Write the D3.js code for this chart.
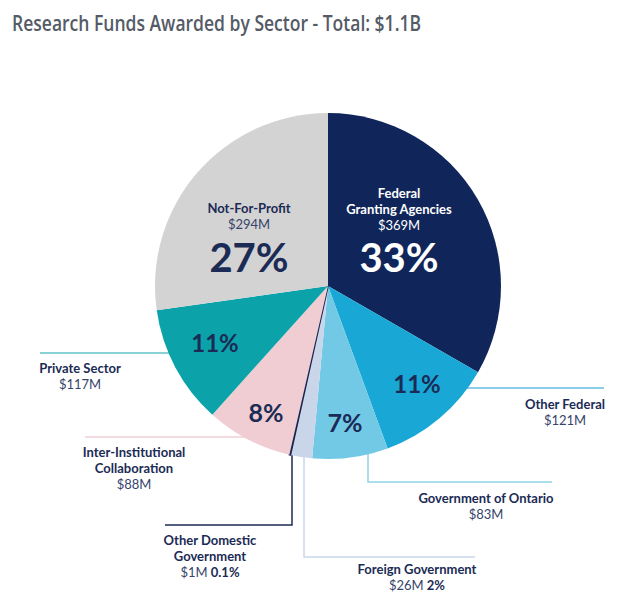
<!DOCTYPE html>
<html>
<head>
<meta charset="utf-8">
<script src="https://cdn.jsdelivr.net/npm/d3@7"></script>
<style>
  html, body { margin: 0; padding: 0; background: #ffffff; }
  svg { display: block; }
</style>
</head>
<body>
<svg id="chart" width="640" height="599"></svg>
<script>
// ---- data ----
const sectors = ["Federal Granting Agencies", "Other Federal", "Government of Ontario", "Foreign Government",
                 "Other Domestic Government", "Inter-Institutional Collaboration", "Private Sector", "Not-For-Profit"];
const nameLines = [["Federal", "Granting Agencies"], ["Other Federal"], ["Government of Ontario"], ["Foreign Government"],
                   ["Other Domestic", "Government"], ["Inter-Institutional", "Collaboration"], ["Private Sector"], ["Not-For-Profit"]];
const amounts = ["$369M", "$121M", "$83M", "$26M", "$1M", "$88M", "$117M", "$294M"];
const percents = [33, 11, 7, 2, 0.1, 8, 11, 27];
const title = "Research Funds Awarded by Sector - Total: $1.1B";

// ---- styles / layout ----
const colors = ["#10265a", "#19a8d6", "#72c9e6", "#c9d6ea", "#16244f", "#efcdd2", "#0ba3a9", "#d3d3d3"];
const lineColors = ["none", "#62bde0", "#8fd3ea", "#c9d6ea", "#1c2a55", "#f0cfd4", "#62c2c6", "none"];
const navy = "#1b2b55";
const cx = 328, cy = 286, R = 173;

// label layout: pct = inside percentage position; lbl = label block; leader = leader line spec
const layout = [
  { pct: [399, 272, 40, "#ffffff"], lbl: [399, 198, "#ffffff", "inside"] },
  { pct: [417, 393, 24, navy], lbl: [565, 409, navy], leader: { type: "h", y: 388, x: 604 } },
  { pct: [345, 432, 25, navy], lbl: [486, 503, navy], leader: { type: "vh", x: 368, y: 482, x2: 552 } },
  { pct: null, lbl: [417, 574, navy, "pctInline"], leader: { type: "vh", x: 304, y: 557, x2: 475 } },
  { pct: null, lbl: [210, 545, navy, "pctInline"], leader: { type: "vh", x: 292, y: 525, x2: 165 } },
  { pct: [266, 422, 25, navy], lbl: [134, 457, navy], leader: { type: "h", y: 437, x: 85 } },
  { pct: [215, 352, 24, navy], lbl: [80, 373, navy], leader: { type: "h", y: 353, x: 40 } },
  { pct: [249, 272, 40, navy], lbl: [249, 213, navy, "inside"] }
];

const svg = d3.select("#chart");

// title
const titleText = svg.append("text")
  .attr("x", 12).attr("y", 31)
  .attr("font-family", "'Open Sans', sans-serif")
  .attr("font-weight", 600)
  .attr("font-size", 21)
  .attr("fill", "#545b66")
  .text(title);
const tw = titleText.node().getComputedTextLength();
if (Math.abs(tw - 409) > 4) {
  titleText.attr("textLength", 409).attr("lengthAdjust", "spacingAndGlyphs");
}

const pie = d3.pie().sort(null).value(d => d)(percents);
const arc = d3.arc().innerRadius(0).outerRadius(R);

const g = svg.append("g");

// leader lines (behind pie)
const leaders = g.append("g").attr("fill", "none").attr("stroke-width", 1.5);
layout.forEach((L, i) => {
  if (!L.leader) return;
  const ld = L.leader;
  let pts;
  if (ld.type === "h") {
    const dx = Math.sqrt(R * R - (ld.y - cy) * (ld.y - cy));
    const xEdge = ld.x < cx ? cx - dx + 2 : cx + dx - 2;
    pts = [[xEdge, ld.y], [ld.x, ld.y]];
  } else {
    const dy = Math.sqrt(R * R - (ld.x - cx) * (ld.x - cx));
    pts = [[ld.x, cy + dy - 2], [ld.x, ld.y], [ld.x2, ld.y]];
  }
  leaders.append("path")
    .attr("d", d3.line()(pts))
    .attr("stroke", lineColors[i]);
});

// slices
g.append("g").attr("transform", `translate(${cx},${cy})`)
  .selectAll("path").data(pie).join("path")
  .attr("d", arc)
  .attr("fill", (d, i) => colors[i])
  .attr("stroke", (d, i) => i === 4 ? colors[i] : "none")
  .attr("stroke-width", (d, i) => i === 4 ? 1.6 : 0);

// percentage labels inside
const fmtPct = v => `${v}%`;
layout.forEach((L, i) => {
  if (!L.pct) return;
  svg.append("text")
    .attr("x", L.pct[0]).attr("y", L.pct[1])
    .attr("text-anchor", "middle")
    .attr("font-family", "Lato, sans-serif")
    .attr("font-weight", 700)
    .attr("font-size", L.pct[2])
    .attr("fill", L.pct[3])
    .text(fmtPct(percents[i]));
});

// name / amount labels
layout.forEach((L, i) => {
  const [x, y0, col, mode] = L.lbl;
  const t = svg.append("text")
    .attr("text-anchor", "middle")
    .attr("font-family", "Lato, sans-serif")
    .attr("font-size", 13)
    .attr("fill", col);
  let y = y0;
  nameLines[i].forEach((ln, k) => {
    t.append("tspan").attr("x", x).attr("y", y).attr("font-weight", 700).text(ln);
    y += 16;
  });
  t.append("tspan").attr("x", x).attr("y", y - 0.5).attr("font-weight", 400)
    .attr("fill", col === "#ffffff" ? col : "#36436a").text(amounts[i]);
  if (mode === "pctInline") {
    t.append("tspan").attr("font-weight", 700).attr("fill", navy).text("\u00a0" + fmtPct(percents[i]));
  }
});
</script>
</body>
</html>
